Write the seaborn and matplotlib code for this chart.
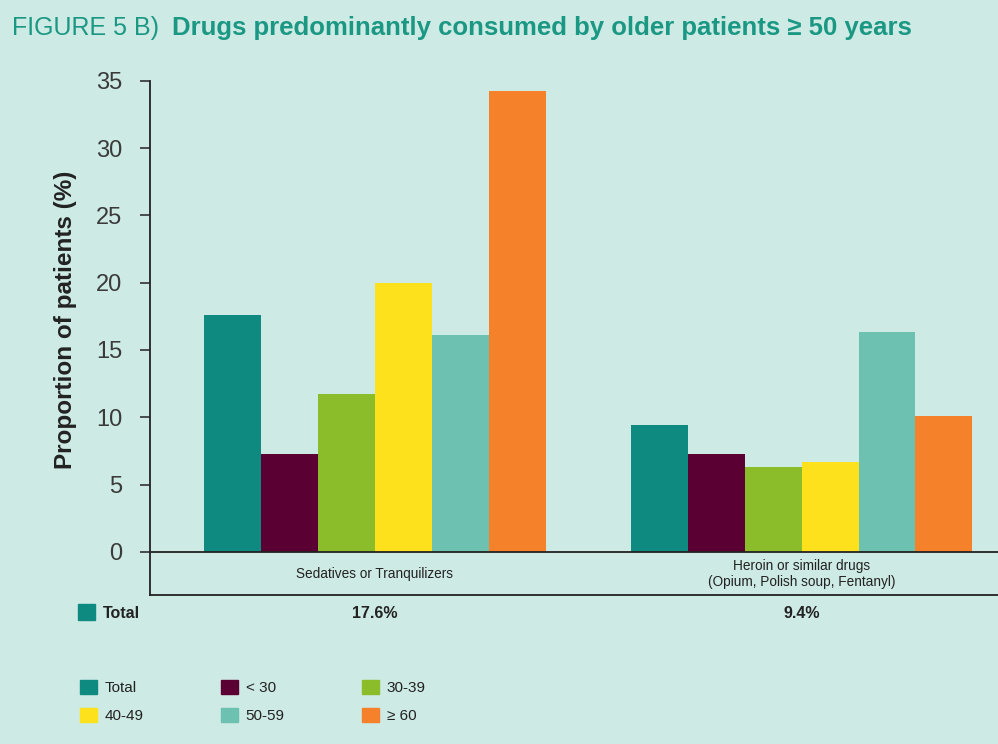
import matplotlib
matplotlib.use("Agg")
import matplotlib.pyplot as plt
import matplotlib.patches as mpatches
import numpy as np
import pandas as pd
import seaborn as sns

# ---------- data ----------
categories = ["Sedatives or Tranquilizers",
              "Heroin or similar drugs\n(Opium, Polish soup, Fentanyl)"]
age_groups = ["Total", "< 30", "30-39", "40-49", "50-59", "\u2265 60"]
sedatives = [17.6, 7.3, 11.7, 20.0, 16.1, 34.2]
heroin = [9.4, 7.3, 6.3, 6.7, 16.3, 10.1]
total_labels = ["17.6%", "9.4%"]

colors = ["#0e8a80", "#5b0032", "#8bbd2b", "#fde11d", "#6cc1b1", "#f5822a"]
bg = "#cdeae4"
title_color = "#1b9883"

df = pd.DataFrame({
    "category": np.repeat(categories, len(age_groups)),
    "group": age_groups * len(categories),
    "value": sedatives + heroin,
})

sns.set_theme(style="white")
plt.rcParams["font.family"] = ["Liberation Sans", "DejaVu Sans"]

fig = plt.figure(figsize=(9.98, 7.44), dpi=100, facecolor=bg)
ax = fig.add_axes([150 / 998, 1 - 595 / 744, 848 / 998, (595 - 80.7) / 744])
ax.set_facecolor(bg)

sns.barplot(data=df, x="category", y="value", hue="group",
            hue_order=age_groups, palette=colors, width=0.8,
            saturation=1, linewidth=0, ax=ax)

ax.set_xlim(-0.527, 1.46)
ax.set_ylim(-3.2, 35)
ax.set_yticks(range(0, 36, 5))
ax.tick_params(axis="y", direction="out", length=7, width=1.1, pad=13,
               labelsize=17, labelcolor="#3a3a3a", color="#222222", left=True)
ax.set_xticks([])
ax.set_xlabel("")
for s in ["top", "right"]:
    ax.spines[s].set_visible(False)
for s in ["left", "bottom"]:
    ax.spines[s].set_color("#222222")
    ax.spines[s].set_linewidth(1.3)
ax.axhline(0, color="#222222", lw=1.3, zorder=3)

ax.set_ylabel("Proportion of patients (%)", fontsize=17.5, fontweight="bold",
              color="#222222")
ax.yaxis.set_label_coords(-0.086, 0.535)

# category labels below zero line
for i, cat in enumerate(categories):
    ax.text(i, -1.65, cat, ha="center", va="center", fontsize=9.8,
            color="#222222", linespacing=1.2)

# legend removed from axes, rebuilt below
ax.get_legend().remove()

# "Total" row
tf = ax.get_xaxis_transform()
fig.patches.append(mpatches.Rectangle((78 / 998, 1 - 620 / 744), 17 / 998, 16 / 744,
                                      transform=fig.transFigure, color=colors[0]))
fig.text(103 / 998, 1 - 613 / 744, "Total", fontsize=11.5, fontweight="bold",
         color="#222222", va="center")
for i, lab in enumerate(total_labels):
    ax.text(i, -0.036, lab, transform=tf, ha="center", va="center", fontsize=11.5,
            fontweight="bold", color="#222222", clip_on=False)

# legend (row-major display via column-major ordering)
handles = [mpatches.Patch(color=c, label=g) for c, g in zip(colors, age_groups)]
order = [0, 3, 1, 4, 2, 5]
fig.legend([handles[k] for k in order], [age_groups[k] for k in order],
           ncol=3, frameon=False, loc="upper left",
           bbox_to_anchor=(66 / 998, 1 - 666 / 744), fontsize=11,
           handlelength=1.1, handleheight=1.1, handletextpad=0.5,
           columnspacing=5.1, labelspacing=0.8, labelcolor="#222222")

# title
fig.text(12 / 998, 1 - 28 / 744, "FIGURE 5 B)", fontsize=18, color=title_color,
         va="center")
fig.text(172 / 998, 1 - 28 / 744,
         "Drugs predominantly consumed by older patients \u2265 50 years",
         fontsize=18.5, fontweight="bold", color=title_color, va="center")

fig.savefig("out.png", dpi=100, facecolor=bg)
